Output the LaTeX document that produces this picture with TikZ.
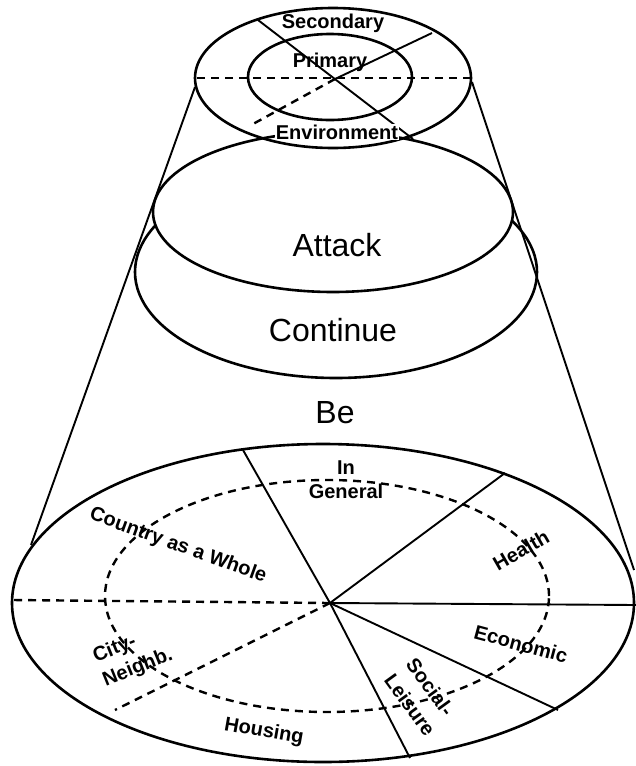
\documentclass[tikz,border=0pt]{standalone}
\usepackage{fontspec}
\setmainfont{Liberation Sans}
\begin{document}
\begin{tikzpicture}[x=1pt,y=-1pt,
  rim/.style={line width=2.6pt},
  cone/.style={line width=1.9pt},
  dashline/.style={line width=2.4pt, dash pattern=on 8pt off 6pt},
  biglabel/.style={font=\fontsize{32}{36}\selectfont, inner sep=1pt},
  small/.style={font=\fontsize{20}{25}\selectfont\bfseries, inner sep=0.5pt},
]
\useasboundingbox (0,0) rectangle (636,766);

% ---------- bottom ellipse (Be) ----------
\draw[rim] (323,603) ellipse [x radius=311pt, y radius=159pt];
\draw[dashline] (327,596) ellipse [x radius=222pt, y radius=116pt];

\coordinate (pc) at (330,603);
\coordinate (pA) at (243,450);
\coordinate (pB) at (505,473);
\coordinate (pC) at (636,605);
\coordinate (pD) at (558,710);
\coordinate (pE) at (410,758);
\coordinate (pF) at (12,600);
\coordinate (pG) at (115,710);

\draw[cone] (pc) -- (pA);
\draw[cone] (pc) -- (pB);
\draw[cone] (pc) -- (pC);
\draw[cone] (pc) -- (pD);
\draw[cone] (pc) -- (pE);
\draw[dashline] (pc) -- (pF);
\draw[dashline] (pc) -- (pG);

\node[small, align=center, font=\fontsize{20}{24}\selectfont\bfseries] (ingeneral) at (346,480) {In\\General};
\node[small, rotate=-20] (country) at (178,546) {Country as a Whole};
\node[small, rotate=22, align=left, font=\fontsize{20}{26}\selectfont\bfseries] (city) at (133,656) {City-\\Neighb.};
\node[small, rotate=-10] (housing) at (264,732) {Housing};
\node[small, rotate=30] (health) at (521,550) {Health};
\node[small, rotate=-15] (economic) at (521,644) {Economic};
\node[small, rotate=-54, align=left, font=\fontsize{20}{27}\selectfont\bfseries] (social) at (421,697) {Social-\\Leisure};

% ---------- middle ellipses ----------
\draw[rim, fill=white] (336,272) ellipse [x radius=201pt, y radius=106pt];
\draw[rim, fill=white] (333,212) ellipse [x radius=180pt, y radius=80pt];

\node[biglabel] (attack) at (337,245) {Attack};
\node[biglabel] (continue) at (333,330) {Continue};
\node[biglabel] (be) at (335,413) {Be};

% ---------- cone sides ----------
\coordinate (tl) at (195,87);
\coordinate (bl) at (31,545);
\coordinate (tr) at (472,82);
\coordinate (br) at (634,570);
\draw[cone] (tl) -- (bl);
\draw[cone] (tr) -- (br);

% ---------- top ellipse ----------
\draw[rim] (333,78) ellipse [x radius=138pt, y radius=70pt];
\draw[rim] (330,77) ellipse [x radius=82pt, y radius=43pt];

\coordinate (tc) at (335,79);
\coordinate (ta) at (258,20);
\coordinate (tb) at (413,139);
\coordinate (tu) at (432,33);
\coordinate (td) at (253,124);
\coordinate (th1) at (197,78);
\coordinate (th2) at (471,78);
\draw[cone] (ta) -- (tb);
\draw[cone] (tu) -- (tc);
\draw[dashline] (tc) -- (td);
\draw[dashline] (th1) -- (th2);

\node[small] (secondary) at (333,23) {Secondary};
\node[small] (primary) at (330,62) {Primary};
\node[small, fill=white] (environment) at (337,132) {Environment};
\end{tikzpicture}
\end{document}
